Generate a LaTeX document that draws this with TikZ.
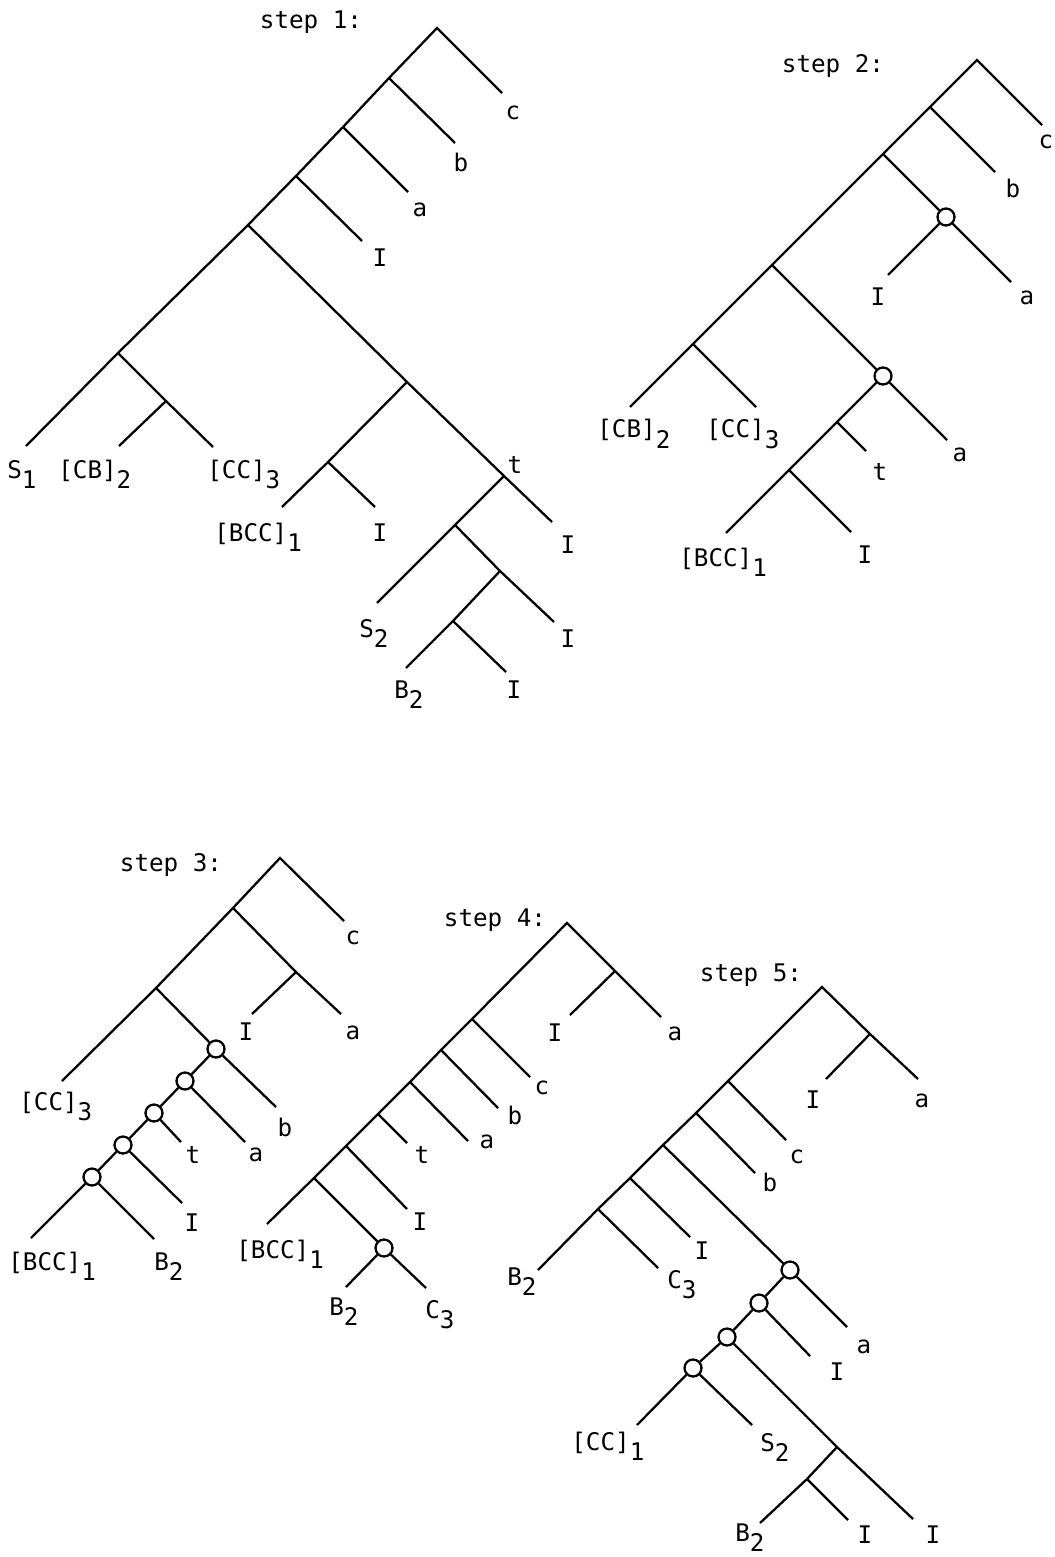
\documentclass[tikz,border=0pt]{standalone}
\usepackage{fontspec}
\setmonofont{DejaVu Sans Mono}
\newcommand{\dn}[1]{\raisebox{-0.42em}{#1}}

\begin{document}
\begin{tikzpicture}[x=0.02cm, y=-0.02cm,
        tree/.style={line width=1.3pt},
        lbl/.style={font=\ttfamily\fontsize{13.8}{16}\selectfont, inner sep=0pt},
        sub/.style={lbl, anchor=base west},
        knot/.style={circle, draw, line width=1.3pt, fill=white, inner sep=0pt, minimum size=0.34cm}]
            \useasboundingbox (0,0) rectangle (1054,1557);

            \node[lbl] (h1) at (311,22) {step 1:};
            \coordinate (r1) at (437,28);
            \coordinate (c1) at (502,93);
            \coordinate (u1) at (389,78);
            \coordinate (b1) at (455,143);
            \coordinate (v1) at (343,127);
            \coordinate (a1) at (408,192);
            \coordinate (w1) at (296,176);
            \coordinate (i1) at (362,241);
            \coordinate (x1) at (248,225);
            \coordinate (y1) at (118,353);
            \coordinate (s1) at (26,446);
            \coordinate (z1) at (166,401);
            \coordinate (cb1) at (119,446);
            \coordinate (cc1) at (213,447);
            \coordinate (m1) at (407,382);
            \coordinate (n1) at (328,462);
            \coordinate (bcc1) at (282,507);
            \coordinate (j1) at (375,507);
            \coordinate (t1) at (504,476);
            \coordinate (k1) at (552,522);
            \coordinate (p1) at (455,525);
            \coordinate (ss1) at (377,603);
            \coordinate (q1) at (500,571);
            \coordinate (l1) at (554,622);
            \coordinate (o1) at (453,621);
            \coordinate (bb1) at (406,668);
            \coordinate (e1) at (506,672);

            \draw[tree] (c1) -- (r1) -- (u1) -- (v1) -- (w1) -- (x1) -- (y1) -- (s1)
                (u1) -- (b1)  (v1) -- (a1)  (w1) -- (i1)
                (y1) -- (z1) -- (cc1)  (z1) -- (cb1)
                (x1) -- (m1) -- (t1) -- (k1)
                (m1) -- (n1) -- (bcc1)  (n1) -- (j1)
                (t1) -- (p1) -- (ss1)  (p1) -- (q1) -- (l1)
                (q1) -- (o1) -- (bb1)  (o1) -- (e1);

            \node[lbl] (Lc1) at (513,113) {c};
            \node[lbl] (Lb1) at (461,162) {b};
            \node[lbl] (La1) at (420,210) {a};
            \node[lbl] (Li1) at (380,258) {I};
            \node[sub] (Ls1) at (7,478) {S\dn{1}};
            \node[sub] (Lcb1) at (58,478) {[CB]\dn{2}};
            \node[sub] (Lcc1) at (207,478) {[CC]\dn{3}};
            \node[sub] (Lbcc1) at (214,541) {[BCC]\dn{1}};
            \node[lbl] (Lj1) at (380,533) {I};
            \node[lbl] (Lt1) at (515,465) {t};
            \node[lbl] (Lk1) at (568,545) {I};
            \node[sub] (Lss1) at (359,637) {S\dn{2}};
            \node[lbl] (Ll1) at (568,639) {I};
            \node[sub] (Lbb1) at (394,698) {B\dn{2}};
            \node[lbl] (Le1) at (514,690) {I};

            \node[lbl] (h2) at (833,66) {step 2:};
            \coordinate (r2) at (977,60);
            \coordinate (c2) at (1042,125);
            \coordinate (u2) at (930,107);
            \coordinate (b2) at (995,172);
            \coordinate (v2) at (883,154);
            \coordinate (a2) at (1011,282);
            \coordinate (i2) at (888,275);
            \coordinate (w2) at (772,265);
            \coordinate (a2b) at (947,440);
            \coordinate (x2) at (837,422);
            \coordinate (t2) at (866,451);
            \coordinate (y2) at (789,470);
            \coordinate (j2) at (851,532);
            \coordinate (bcc2) at (726,533);
            \coordinate (z2) at (693,344);
            \coordinate (cb2) at (630,407);
            \coordinate (cc2) at (756,407);
            \node[knot] (o2) at (946,217) {};
            \node[knot] (q2) at (883,376) {};

            \draw[tree] (c2) -- (r2) -- (u2) -- (v2) -- (w2) -- (z2) -- (cb2)
                (u2) -- (b2)  (v2) -- (o2) -- (a2)  (o2) -- (i2)
                (w2) -- (q2) -- (a2b)  (q2) -- (x2) -- (y2) -- (bcc2)
                (x2) -- (t2)  (y2) -- (j2)  (z2) -- (cc2);

            \node[lbl] (Lc2) at (1046,142) {c};
            \node[lbl] (Lb2) at (1013,188) {b};
            \node[lbl] (Li2) at (878,297) {I};
            \node[lbl] (La2) at (1027,298) {a};
            \node[lbl] (La2b) at (960,455) {a};
            \node[lbl] (Lt2) at (880,472) {t};
            \node[lbl] (Lj2) at (865,555) {I};
            \node[sub] (Lbcc2) at (679,566) {[BCC]\dn{1}};
            \node[sub] (Lcb2) at (597,438) {[CB]\dn{2}};
            \node[sub] (Lcc2) at (706,438) {[CC]\dn{3}};

            \node[lbl] (h3) at (171,865) {step 3:};
            \coordinate (r3) at (280,858);
            \coordinate (c3) at (344,921);
            \coordinate (u3) at (233,908);
            \coordinate (v3) at (296,972);
            \coordinate (i3) at (252,1014);
            \coordinate (a3) at (341,1014);
            \coordinate (w3) at (156,988);
            \coordinate (cc3) at (62,1081);
            \coordinate (b3) at (276,1107);
            \coordinate (a3b) at (245,1142);
            \coordinate (t3) at (181,1142);
            \coordinate (j3) at (182,1203);
            \coordinate (bcc3) at (31,1238);
            \coordinate (bb3) at (154,1239);
            \node[knot] (o3a) at (216,1049) {};
            \node[knot] (o3b) at (185,1081) {};
            \node[knot] (o3c) at (154,1113) {};
            \node[knot] (o3d) at (123,1145) {};
            \node[knot] (o3e) at (92,1177) {};

            \draw[tree] (c3) -- (r3) -- (u3) -- (w3) -- (cc3)
                (u3) -- (v3) -- (a3)  (v3) -- (i3)
                (w3) -- (o3a) -- (b3)
                (o3a) -- (o3b) -- (o3c) -- (o3d) -- (o3e) -- (bcc3)
                (o3b) -- (a3b)  (o3c) -- (t3)  (o3d) -- (j3)  (o3e) -- (bb3);

            \node[lbl] (Lc3) at (353,938) {c};
            \node[lbl] (Li3) at (246,1032) {I};
            \node[lbl] (La3) at (353,1033) {a};
            \node[lbl] (Lb3) at (285,1127) {b};
            \node[lbl] (La3b) at (256,1155) {a};
            \node[lbl] (Lt3) at (193,1155) {t};
            \node[lbl] (Lj3) at (192,1223) {I};
            \node[sub] (Lcc3) at (19,1110) {[CC]\dn{3}};
            \node[sub] (Lbcc3) at (8,1270) {[BCC]\dn{1}};
            \node[sub] (Lbb3) at (154,1270) {B\dn{2}};

            \node[lbl] (h4) at (495,920) {step 4:};
            \coordinate (r4) at (567,923);
            \coordinate (u4) at (615,971);
            \coordinate (i4) at (570,1015);
            \coordinate (a4) at (661,1017);
            \coordinate (v4) at (472,1019);
            \coordinate (c4) at (530,1077);
            \coordinate (w4) at (441,1050);
            \coordinate (b4) at (498,1108);
            \coordinate (x4) at (410,1082);
            \coordinate (a4b) at (468,1141);
            \coordinate (y4) at (378,1114);
            \coordinate (t4) at (407,1143);
            \coordinate (z4) at (346,1146);
            \coordinate (j4) at (407,1209);
            \coordinate (m4) at (314,1178);
            \coordinate (bcc4) at (267,1224);
            \coordinate (bb4) at (346,1287);
            \coordinate (cc4) at (426,1288);
            \node[knot] (o4) at (384,1248) {};

            \draw[tree] (a4) -- (u4) -- (r4) -- (v4) -- (w4) -- (x4) -- (y4) -- (z4) -- (m4) -- (bcc4)
                (u4) -- (i4)  (v4) -- (c4)  (w4) -- (b4)  (x4) -- (a4b)
                (y4) -- (t4)  (z4) -- (j4)
                (m4) -- (o4) -- (cc4)  (o4) -- (bb4);

            \node[lbl] (Li4) at (555,1033) {I};
            \node[lbl] (La4) at (675,1034) {a};
            \node[lbl] (Lc4) at (542,1088) {c};
            \node[lbl] (Lb4) at (515,1115) {b};
            \node[lbl] (La4b) at (487,1142) {a};
            \node[lbl] (Lt4) at (422,1155) {t};
            \node[lbl] (Lj4) at (420,1222) {I};
            \node[sub] (Lbcc4) at (236,1258) {[BCC]\dn{1}};
            \node[sub] (Lbb4) at (329,1315) {B\dn{2}};
            \node[sub] (Lcc4) at (425,1318) {C\dn{3}};

            \node[lbl] (h5) at (751,975) {step 5:};
            \coordinate (r5) at (822,987);
            \coordinate (u5) at (870,1034);
            \coordinate (i5) at (826,1079);
            \coordinate (a5) at (918,1079);
            \coordinate (v5) at (728,1081);
            \coordinate (c5) at (786,1140);
            \coordinate (w5) at (696,1113);
            \coordinate (b5) at (755,1173);
            \coordinate (x5) at (663,1145);
            \coordinate (y5) at (630,1178);
            \coordinate (j5) at (690,1237);
            \coordinate (z5) at (598,1209);
            \coordinate (bb5) at (538,1270);
            \coordinate (cc5) at (658,1268);
            \coordinate (a5b) at (847,1327);
            \coordinate (j5b) at (810,1356);
            \coordinate (m5) at (837,1447);
            \coordinate (k5) at (913,1519);
            \coordinate (n5) at (807,1479);
            \coordinate (bb5b) at (760,1523);
            \coordinate (e5) at (848,1520);
            \coordinate (c5b) at (637,1425);
            \coordinate (s5) at (752,1425);
            \node[knot] (o5a) at (790,1270) {};
            \node[knot] (o5b) at (759,1303) {};
            \node[knot] (o5c) at (727,1337) {};
            \node[knot] (o5d) at (693,1368) {};

            \draw[tree] (a5) -- (u5) -- (r5) -- (v5) -- (w5) -- (x5) -- (y5) -- (z5) -- (bb5)
                (u5) -- (i5)  (v5) -- (c5)  (w5) -- (b5)
                (y5) -- (j5)  (z5) -- (cc5)
                (x5) -- (o5a) -- (a5b)
                (o5a) -- (o5b) -- (o5c) -- (o5d) -- (c5b)
                (o5b) -- (j5b)  (o5d) -- (s5)
                (o5c) -- (m5) -- (k5)  (m5) -- (n5) -- (bb5b)  (n5) -- (e5);

            \node[lbl] (Li5) at (813,1100) {I};
            \node[lbl] (La5) at (922,1101) {a};
            \node[lbl] (Lc5) at (797,1157) {c};
            \node[lbl] (Lb5) at (770,1182) {b};
            \node[lbl] (Lj5) at (702,1251) {I};
            \node[sub] (Lbb5) at (507,1285) {B\dn{2}};
            \node[sub] (Lcc5) at (667,1288) {C\dn{3}};
            \node[lbl] (La5b) at (864,1347) {a};
            \node[lbl] (Lj5b) at (837,1372) {I};
            \node[sub] (Lc5b) at (571,1450) {[CC]\dn{1}};
            \node[sub] (Ls5) at (760,1451) {S\dn{2}};
            \node[sub] (Lbb5b) at (735,1541) {B\dn{2}};
            \node[lbl] (Le5) at (865,1535) {I};
            \node[lbl] (Lk5) at (933,1535) {I};
\end{tikzpicture}
\end{document}
